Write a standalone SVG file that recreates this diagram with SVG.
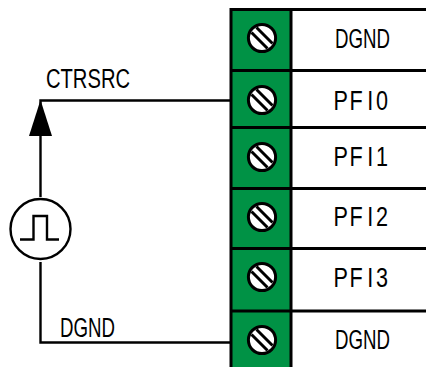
<svg xmlns="http://www.w3.org/2000/svg" width="426" height="367" viewBox="0 0 426 367">
<style>
.l{fill:none;stroke:#000;stroke-width:2.4}
.t{font-family:"Liberation Sans",Arial,sans-serif;font-size:27px;fill:#000}
.g{fill:#009245;stroke:#000;stroke-width:3}
.s{fill:#fff;stroke:#000;stroke-width:3}
.b{fill:none;stroke:#000;stroke-width:3}
.k{fill:none;stroke:#000;stroke-width:3}
</style>
<defs>
<g id="screw"><circle class="s" r="13.6"/><path class="k" d="M-5.500-10.500L10.500 5.500M-10.500-5.500L5.500 10.500"/></g>
</defs>
<rect width="426" height="367" fill="#fff"/>
<g id="connectors">
<path class="l" d="M230 100.500H40.500V197M40.500 262V342.500H230"/>
<path d="M40.500 100L52 136H29Z" fill="#000"/>
</g>
<g id="block">
<rect class="g" x="231" y="9.500" width="60" height="359"/>
<path class="b" d="M231 9.500H426M231 70.500H426M231 127.500H426M231 188.500H426M231 248.500H426M231 311H426"/>
</g>
<g id="t1"><use href="#screw" x="262" y="38"/><text class="t" x="335" y="47.500" textLength="55" lengthAdjust="spacingAndGlyphs">DGND</text></g>
<g id="t2"><use href="#screw" x="262" y="100"/><text class="t" transform="translate(0,110) scale(.8,1)" x="417 437 459 470" y="0">PFI0</text></g>
<g id="t3"><use href="#screw" x="262" y="157"/><text class="t" transform="translate(0,166) scale(.8,1)" x="417 437 459 470" y="0">PFI1</text></g>
<g id="t4"><use href="#screw" x="262" y="217"/><text class="t" transform="translate(0,226) scale(.8,1)" x="417 437 459 470" y="0">PFI2</text></g>
<g id="t5"><use href="#screw" x="262" y="277"/><text class="t" transform="translate(0,287) scale(.8,1)" x="417 437 459 470" y="0">PFI3</text></g>
<g id="t6"><use href="#screw" x="262" y="340"/><text class="t" x="335" y="349" textLength="55" lengthAdjust="spacingAndGlyphs">DGND</text></g>
<g id="source"><circle cx="40.500" cy="229" r="30" fill="#fff" stroke="#000" stroke-width="2.400"/><path class="l" d="M20 239.500H33.500V216H47V239.500H59"/></g>
<g id="labels"><text class="t" x="46" y="88" textLength="84" lengthAdjust="spacingAndGlyphs">CTRSRC</text><text class="t" x="60" y="337" textLength="55" lengthAdjust="spacingAndGlyphs">DGND</text></g>
</svg>
